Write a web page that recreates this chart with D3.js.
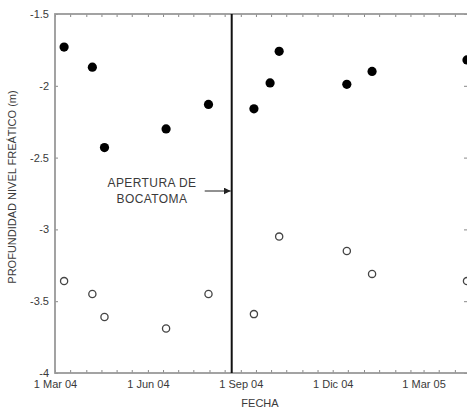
<!DOCTYPE html>
<html>
<head>
<meta charset="utf-8">
<script src="https://cdn.jsdelivr.net/npm/d3@7"></script>
<style>
  body { margin: 0; background: #fff; }
  svg text { font-family: "Liberation Sans", Arial, sans-serif; fill: #3a3a3a; }
</style>
</head>
<body>
<div id="chart_id"></div>
<script>
// datos
var fechas_llenos = ["2004-03-10","2004-04-07","2004-04-19","2004-06-19","2004-07-31",
                     "2004-09-14","2004-09-30","2004-10-09","2004-12-15","2005-01-09","2005-04-13"];
var prof_llenos = [-1.73, -1.87, -2.43, -2.30, -2.13, -2.16, -1.98, -1.76, -1.99, -1.90, -1.82];

var fechas_vacios = ["2004-03-10","2004-04-07","2004-04-19","2004-06-19","2004-07-31",
                     "2004-09-14","2004-10-09","2004-12-15","2005-01-09","2005-04-13"];
var prof_vacios = [-3.36, -3.45, -3.61, -3.69, -3.45, -3.59, -3.05, -3.15, -3.31, -3.36];

var fecha_bocatoma = "2004-08-23";

var x_ticks = ["2004-03-01","2004-06-01","2004-09-01","2004-12-01","2005-03-01"];
var x_labels = ["1 Mar 04","1 Jun 04","1 Sep 04","1 Dic 04","1 Mar 05"];
var y_ticks = [-1.5, -2, -2.5, -3, -3.5, -4];
var y_labels = ["-1.5","-2","-2.5","-3","-3.5","-4"];

var width = 467;
var height = 411;
var x_izq = 55, x_der = 468, y_sup = 14, y_inf = 373;

var parse = d3.timeParse("%Y-%m-%d");

var svg = d3.select("#chart_id")
    .append("svg")
    .attr("width", width)
    .attr("height", height);

var x = d3.scaleTime()
    .domain([parse("2004-03-01"), parse("2005-04-14")])
    .range([x_izq, x_der]);

var y = d3.scaleLinear()
    .domain([-4, -1.5])
    .range([y_inf, y_sup]);

// marcas menores: dia 1 y 16 de cada mes
var minor = [];
d3.timeMonths(parse("2004-03-01"), parse("2005-05-01")).forEach(function(m) {
  minor.push(m);
  minor.push(new Date(m.getFullYear(), m.getMonth(), 16));
});
minor = minor.filter(function(d) { return d <= x.domain()[1]; });

function style_axis(g) {
  g.select(".domain").remove();
  g.selectAll(".tick line").attr("stroke", "#888").attr("stroke-width", 1);
  g.selectAll(".tick text").style("font-size", "11px").attr("fill", "#3a3a3a");
}

// eje inferior
svg.append("g")
    .attr("transform", "translate(0," + y_inf + ")")
    .call(d3.axisBottom(x).tickValues(minor).tickSize(-3).tickFormat(""))
    .call(style_axis);

svg.append("g")
    .attr("transform", "translate(0," + y_inf + ")")
    .call(d3.axisBottom(x).tickValues(x_ticks.map(parse)).tickSize(0).tickPadding(7)
          .tickFormat(function(d, i) { return x_labels[i]; }))
    .call(style_axis);

// eje superior
svg.append("g")
    .attr("transform", "translate(0," + y_sup + ")")
    .call(d3.axisTop(x).tickValues(minor).tickSize(-3).tickFormat(""))
    .call(style_axis);

// eje izquierdo y derecho
svg.append("g")
    .attr("transform", "translate(" + x_izq + ",0)")
    .call(d3.axisLeft(y).tickValues(y_ticks).tickSize(-3).tickPadding(6)
          .tickFormat(function(d, i) { return y_labels[i]; }))
    .call(style_axis);

svg.append("g")
    .attr("transform", "translate(" + x_der + ",0)")
    .call(d3.axisRight(y).tickValues(y_ticks).tickSize(-4).tickFormat(""))
    .call(style_axis);

// marco
svg.append("rect")
    .attr("x", x_izq)
    .attr("y", y_sup)
    .attr("width", x_der - x_izq)
    .attr("height", y_inf - y_sup)
    .attr("fill", "none")
    .attr("stroke", "#999")
    .attr("stroke-width", 1.8);

// linea de apertura
svg.append("line")
    .attr("x1", x(parse(fecha_bocatoma)))
    .attr("x2", x(parse(fecha_bocatoma)))
    .attr("y1", y_sup)
    .attr("y2", y_inf)
    .attr("stroke", "#111")
    .attr("stroke-width", 2);

// puntos llenos
svg.selectAll(".lleno")
    .data(prof_llenos)
    .enter()
    .append("circle")
    .attr("class", "lleno")
    .attr("cx", function(d, i) { return x(parse(fechas_llenos[i])); })
    .attr("cy", function(d) { return y(d); })
    .attr("r", 4.6)
    .attr("fill", "#000");

// puntos vacios
svg.selectAll(".vacio")
    .data(prof_vacios)
    .enter()
    .append("circle")
    .attr("class", "vacio")
    .attr("cx", function(d, i) { return x(parse(fechas_vacios[i])); })
    .attr("cy", function(d) { return y(d); })
    .attr("r", 3.6)
    .attr("fill", "#fff")
    .attr("stroke", "#444")
    .attr("stroke-width", 1.3);

// anotacion
var xb = x(parse(fecha_bocatoma));
svg.append("defs").append("marker")
    .attr("id", "flecha")
    .attr("viewBox", "0 0 10 10")
    .attr("refX", 10).attr("refY", 5)
    .attr("markerWidth", 7).attr("markerHeight", 7)
    .attr("markerUnits", "userSpaceOnUse")
    .attr("orient", "auto")
    .append("path")
    .attr("d", "M0,0 L10,5 L0,10 z")
    .attr("fill", "#222");

svg.append("line")
    .attr("x1", xb - 27)
    .attr("x2", xb - 1)
    .attr("y1", 191)
    .attr("y2", 191)
    .attr("stroke", "#222")
    .attr("stroke-width", 1)
    .attr("marker-end", "url(#flecha)");

svg.append("text")
    .attr("x", 152).attr("y", 187)
    .attr("text-anchor", "middle")
    .style("font-size", "12px")
    .style("letter-spacing", "0.4px")
    .text("APERTURA DE");

svg.append("text")
    .attr("x", 152).attr("y", 203)
    .attr("text-anchor", "middle")
    .style("font-size", "12px")
    .style("letter-spacing", "0.4px")
    .text("BOCATOMA");

// titulos de ejes
svg.append("text")
    .attr("x", 260).attr("y", 407)
    .attr("text-anchor", "middle")
    .style("font-size", "11px")
    .text("FECHA");

svg.append("text")
    .attr("transform", "translate(16,187) rotate(-90)")
    .attr("text-anchor", "middle")
    .style("font-size", "11px")
    .text("PROFUNDIDAD NIVEL FREÁTICO (m)");
</script>
</body>
</html>
